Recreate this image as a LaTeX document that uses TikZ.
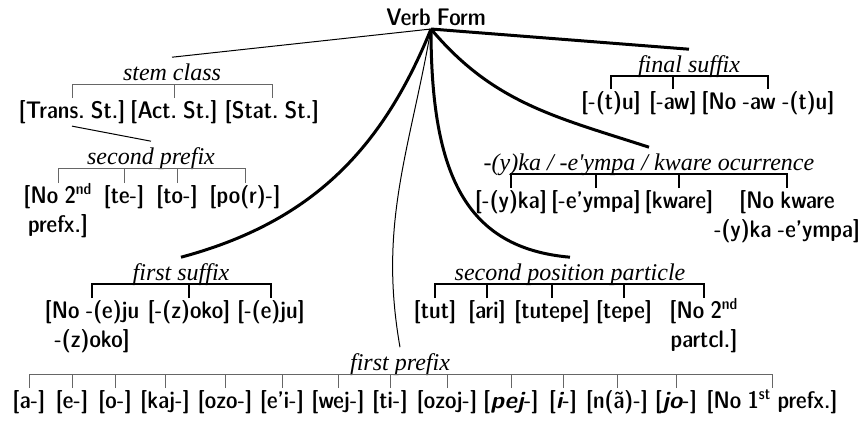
\documentclass[tikz,border=0pt]{standalone}
\usepackage{fontspec}
\usepackage{tikz}
\usetikzlibrary{positioning,calc}
\newfontfamily\catfont{Liberation Serif}
\newcommand{\leaffont}{\fontfamily{lmss}\fontseries{sbc}\fontsize{12}{14.5}\selectfont\frenchspacing\spaceskip=0.26em plus 0.1em minus 0.05em\relax}
\newcommand{\ord}[1]{\smash{\textsuperscript{#1}}}
\newcommand{\stress}[1]{{\fontseries{bx}\fontshape{sl}\selectfont #1}}
\tikzset{
  leaf/.style={anchor=north, inner sep=1pt, align=center, font=\leaffont},
  cat/.style={anchor=south, inner sep=0pt, text height=11.5pt, text depth=1.5pt,
              font=\catfont\itshape\fontsize{12}{14}\selectfont},
  tie/.style={line width=0.5pt, gray!80!black},
  tieb/.style={line width=1pt, black},
  twig/.style={line width=0.5pt},
  limb/.style={line width=1.5pt},
}

\begin{document}
\begin{tikzpicture}[x=0.5pt, y=-0.5pt]
  \useasboundingbox (0,0) rectangle (864,420);
  \node[font=\leaffont, inner sep=1pt, anchor=base] (root) at (436,25) {Verb Form};
  \coordinate (apex) at (431,29);

  % categories
  \node[cat] (stem) at (172,84) {stem class};
  \node[cat] (secpre) at (151,168) {second prefix};
  \node[cat] (final) at (689,76) {final suffix};
  \node[cat] (yka) at (649,174) {-(y)ka / -e'ympa / kware ocurrence};
  \node[cat] (part) at (570,284) {second position particle};
  \node[cat] (firstsuf) at (181,284) {first suffix};
  \node[cat] (firstpre) at (400,374) {first prefix};

  % stem class
  \node[leaf] (trans) at (72,98) {[Trans. St.]};
  \node[leaf] (act) at (174,98) {[Act. St.]};
  \node[leaf] (stat) at (272,98) {[Stat. St.]};
  % second prefix
  \node[leaf] (nopre2) at (58,183) {[No 2\ord{nd}\\prefx.]};
  \node[leaf] (te) at (124,183) {[te-]};
  \node[leaf] (to) at (177,183) {[to-]};
  \node[leaf] (por) at (245,183) {[po(r)-]};
  % final suffix
  \node[leaf] (tu) at (611,89) {[-(t)u]};
  \node[leaf] (aw) at (673,89) {[-aw]};
  \node[leaf] (noaw) at (768,89) {[No -aw -(t)u]};
  % -(y)ka / -e'ympa / kware
  \node[leaf] (yka1) at (511,188) {[-(y)ka]};
  \node[leaf] (eympa) at (596,188) {[-e'ympa]};
  \node[leaf] (kware) at (679,188) {[kware]};
  \node[leaf] (nokware) at (787,188) {[No kware\\-(y)ka -e'ympa]};
  % second position particle
  \node[leaf] (tut) at (435,298) {[tut]};
  \node[leaf] (ari) at (487,298) {[ari]};
  \node[leaf] (tutepe) at (552,298) {[tutepe]};
  \node[leaf] (tepe) at (624,298) {[tepe]};
  \node[leaf] (nopart) at (704,298) {[No 2\ord{nd}\\partcl.]};
  % first suffix
  \node[leaf] (noeju) at (92,298) {[No -(e)ju\\-(z)oko]};
  \node[leaf] (zoko) at (189,298) {[-(z)oko]};
  \node[leaf] (eju) at (271,298) {[-(e)ju]};
  % first prefix
  \node[leaf] (pa) at (29,388) {[a-]};
  \node[leaf] (pe) at (72,388) {[e-]};
  \node[leaf] (po) at (115,388) {[o-]};
  \node[leaf] (pkaj) at (165,388) {[kaj-]};
  \node[leaf] (pozo) at (225,388) {[ozo-]};
  \node[leaf] (pei) at (282,388) {[e'i-]};
  \node[leaf] (pwej) at (338,388) {[wej-]};
  \node[leaf] (pti) at (390,388) {[ti-]};
  \node[leaf] (pozoj) at (447,388) {[ozoj-]};
  \node[leaf] (ppej) at (511,388) {[\stress{pej}-]};
  \node[leaf] (pi) at (563,388) {[\stress{i}-]};
  \node[leaf] (pna) at (617,388) {[n(ã)-]};
  \node[leaf] (pjo) at (676,388) {[\stress{jo}-]};
  \node[leaf] (pno) at (772,388) {[No 1\ord{st} prefx.]};

  % branches
  \draw[twig] (apex) -- (stem.north);
  \draw[limb] (apex) -- (final.north);
  \draw[limb] (apex) to[out=-50, in=162] (yka.north);
  \draw[limb] (apex) to[out=-90, in=175, out looseness=1.4] (part.north);
  \draw[twig] (apex) to[out=-100, in=100] (firstpre.north);
  \draw[limb] (apex) to[out=-112, in=15] (firstsuf.north);
  \draw[twig] (trans.south) -- (secpre.north);

  % brackets
  \draw[tie] (trans.north) |- (stem.south) -| (stat.north);
  \draw[tie] (act.north) -- (act.north |- stem.south);
  \draw[tie] (nopre2.north) |- (secpre.south) -| (por.north);
  \foreach \n in {te,to}
    \draw[tie] (\n.north) -- (\n.north |- secpre.south);
  \draw[tieb] (tu.north) |- (final.south) -| (noaw.north);
  \draw[tieb] (aw.north) -- (aw.north |- final.south);
  \draw[tieb] (yka1.north) |- (yka.south) -| (nokware.north);
  \foreach \n in {eympa,kware}
    \draw[tieb] (\n.north) -- (\n.north |- yka.south);
  \draw[tieb] (tut.north) |- (part.south) -| (nopart.north);
  \foreach \n in {ari,tutepe,tepe}
    \draw[tieb] (\n.north) -- (\n.north |- part.south);
  \draw[tieb] (noeju.north) |- (firstsuf.south) -| (eju.north);
  \draw[tieb] (zoko.north) -- (zoko.north |- firstsuf.south);
  \draw[tie] (pa.north) |- (firstpre.south) -| (pno.north);
  \foreach \n in {pe,po,pkaj,pozo,pei,pwej,pti,pozoj,ppej,pi,pna,pjo}
    \draw[tie] (\n.north) -- (\n.north |- firstpre.south);
\end{tikzpicture}
\end{document}
